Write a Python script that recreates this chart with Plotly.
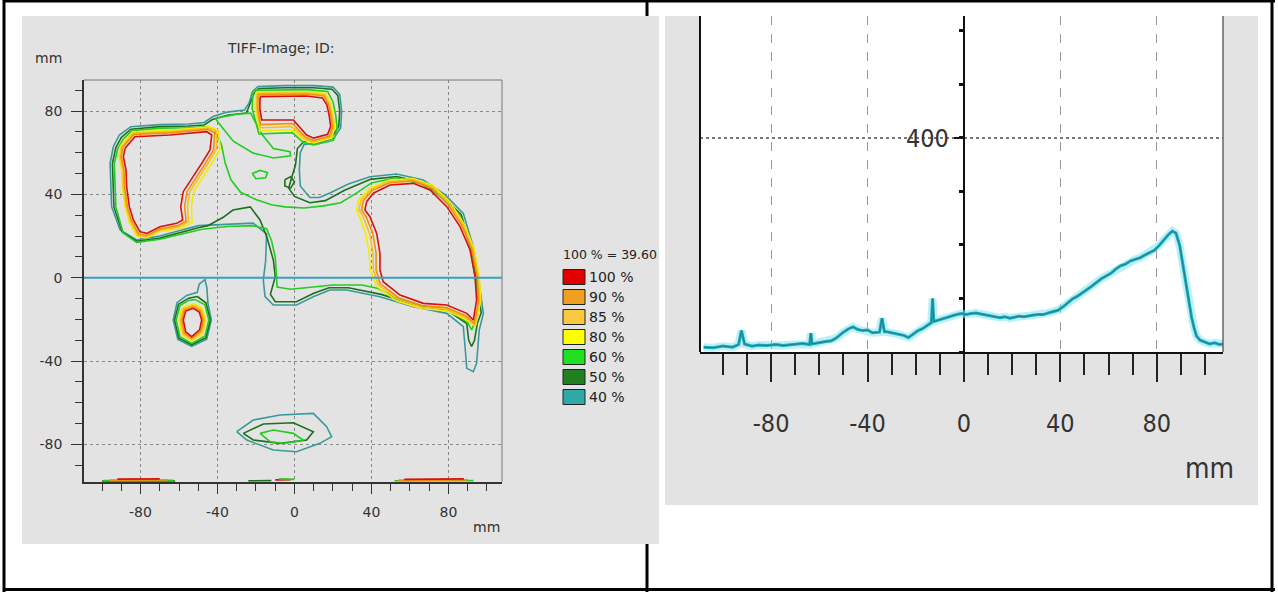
import plotly.graph_objects as go

W, H = 1278, 592

# ---------------- data: isodose contours (mm) ----------------
LEVELS = ["100 %", "90 %", "85 %", "80 %", "60 %", "50 %", "40 %"]
LEVEL_COLORS = ["#e00000", "#f0a020", "#f8c840", "#ffff00", "#20e020", "#208020", "#30a8a8"]
LINE_COLORS = {"100": "#d81010", "90": "#f09010", "85": "#f5c020", "80": "#f4ec00",
               "60": "#22cc22", "50": "#1d701d", "40": "#3a9a9a"}
NORM_TEXT = "100 % = 39.60"
TICK_VALS = [-80, -40, 0, 40, 80]
TICK_TEXT = ["-80", "-40", "0", "40", "80"]

# upper-left lobe
red100_A = [(-88.0, 62.1), (-82.9, 67.7), (-64.7, 68.5), (-45.6, 70.1), (-43.0, 68.5), (-43.9, 61.3),
            (-48.2, 54.9), (-52.6, 48.5), (-57.8, 41.3), (-59.1, 34.1), (-58.1, 27.7), (-61.2, 26.1),
            (-69.9, 24.5), (-76.8, 21.3), (-80.3, 22.1), (-83.7, 27.7), (-85.8, 34.1), (-87.2, 43.7),
            (-87.5, 51.7), (-88.9, 58.1)]
orange90_A = [(-89.2, 62.5), (-83.5, 68.8), (-64.7, 69.5), (-45.0, 71.2), (-41.5, 69.5), (-42.0, 61.5),
              (-46.2, 55.0), (-50.6, 48.5), (-55.8, 41.3), (-57.1, 34.1), (-56.3, 27.2), (-60.5, 25.0),
              (-69.9, 23.5), (-76.8, 20.3), (-80.9, 21.0), (-84.6, 27.3), (-86.8, 34.0), (-88.3, 43.7),
              (-88.6, 51.7), (-90.0, 58.2)]
gold85_A = [(-89.8, 62.9), (-83.8, 69.4), (-64.7, 70.1), (-44.6, 71.8), (-40.5, 70.2), (-40.6, 61.8),
            (-44.7, 55.2), (-49.1, 48.6), (-54.3, 41.4), (-55.6, 34.2), (-55.0, 27.0), (-59.8, 24.3),
            (-69.9, 22.9), (-76.8, 19.7), (-81.3, 20.4), (-85.2, 27.0), (-87.4, 34.0), (-88.9, 43.7),
            (-89.2, 51.7), (-90.6, 58.3)]
yellow80_A = [(-90.4, 63.3), (-84.1, 70.0), (-64.7, 70.7), (-44.2, 72.4), (-39.5, 70.8), (-38.6, 62.0),
              (-42.7, 55.4), (-47.1, 48.8), (-52.3, 41.5), (-53.6, 34.3), (-53.2, 26.6), (-59.0, 23.6),
              (-69.9, 22.3), (-76.8, 19.1), (-81.7, 19.8), (-85.8, 26.7), (-88.0, 34.0), (-89.5, 43.7),
              (-89.8, 51.7), (-91.2, 58.4)]

# top box
red100_B = [(-17.9, 86.9), (6.3, 87.2), (14.5, 86.3), (16.8, 83.0), (18.0, 78.0), (18.8, 72.5), (17.2, 68.8),
            (10.0, 67.0), (6.3, 68.5), (1.1, 74.1), (-0.6, 75.7), (-17.0, 75.7), (-18.0, 81.3)]
orange90_B = [(-18.9, 87.9), (6.3, 88.2), (15.2, 87.2), (17.6, 83.3), (18.9, 78.0), (19.8, 72.3), (18.0, 68.0),
              (10.0, 65.9), (5.8, 67.4), (0.5, 72.6), (-1.0, 74.0), (-17.6, 73.5), (-19.0, 81.3)]
gold85_B = [(-19.5, 88.5), (6.3, 88.8), (15.7, 87.8), (18.2, 83.5), (19.5, 78.0), (20.4, 72.2), (18.6, 67.5),
            (10.0, 65.3), (5.5, 66.7), (0.0, 71.5), (-2.0, 72.5), (-17.8, 72.0), (-19.7, 81.3)]
yellow80_B = [(-20.1, 89.1), (6.3, 89.4), (16.2, 88.4), (18.8, 83.8), (20.1, 78.0), (21.0, 72.0), (19.2, 67.0),
              (10.0, 64.7), (5.0, 66.0), (-0.5, 70.5), (-3.0, 71.0), (-18.0, 70.5), (-20.4, 81.3)]
green60_B = [(-21.5, 90.0), (6.3, 90.3), (17.2, 89.4), (20.0, 84.5), (21.4, 78.0), (22.2, 71.5), (20.2, 66.0),
             (10.0, 63.7), (4.5, 65.0), (-1.0, 69.5), (-4.0, 69.5), (-18.5, 69.0), (-22.0, 81.3)]

# right lobe
red100_C = [(40.9, 40.5), (49.6, 44.5), (61.7, 45.3), (70.4, 42.1), (79.1, 34.1), (86.0, 24.5), (91.2, 13.3),
            (93.8, 0.5), (94.6, -10.7), (92.9, -20.3), (89.5, -17.1), (79.1, -13.1), (66.9, -12.3),
            (54.8, -8.3), (46.1, -1.9), (44.4, 3.7), (44.4, 11.7), (42.7, 21.3), (39.2, 29.3),
            (36.6, 32.5), (37.5, 36.5)]
orange90_C = [(40.3, 41.8), (49.4, 45.6), (61.7, 46.4), (71.0, 43.1), (80.0, 34.8), (87.0, 25.0), (92.2, 13.5),
              (94.8, 0.5), (95.6, -10.8), (93.4, -21.8), (89.0, -18.4), (79.0, -14.3), (66.5, -13.5),
              (54.0, -9.6), (44.5, -2.8), (42.4, 3.7), (42.4, 11.7), (40.7, 21.3), (37.2, 29.3),
              (34.8, 32.5), (35.8, 37.0)]
gold85_C = [(39.8, 42.5), (49.3, 46.2), (61.7, 47.0), (71.5, 43.7), (80.6, 35.3), (87.6, 25.3), (92.8, 13.6),
            (95.4, 0.5), (96.2, -10.9), (93.7, -22.5), (88.7, -19.1), (78.9, -15.0), (66.3, -14.2),
            (53.6, -10.4), (43.5, -3.4), (41.0, 3.7), (40.8, 11.7), (39.0, 21.3), (35.6, 29.3),
            (33.5, 32.5), (34.5, 37.3)]
yellow80_C = [(39.3, 43.2), (49.2, 46.8), (61.7, 47.6), (72.0, 44.3), (81.2, 35.8), (88.2, 25.6), (93.4, 13.7),
              (96.0, 0.5), (96.8, -11.0), (94.0, -23.2), (88.4, -19.8), (78.8, -15.7), (66.1, -14.9),
              (53.2, -11.2), (42.5, -4.0), (39.4, 3.7), (38.8, 11.7), (37.0, 21.3), (33.8, 29.3),
              (32.2, 32.5), (33.4, 37.6)]

# small island
red100_D = [(-52.6, -14.7), (-49.5, -16.5), (-48.2, -20.3), (-49.3, -25.0), (-53.4, -28.3), (-56.5, -26.0),
            (-57.8, -20.3), (-56.5, -16.0)]
orange90_D = [(-52.6, -13.9), (-49.0, -15.9), (-47.4, -20.3), (-48.7, -25.6), (-53.4, -29.1), (-57.2, -26.5),
              (-58.6, -20.3), (-57.2, -15.4)]
gold85_D = [(-52.4, -13.2), (-48.5, -15.2), (-46.7, -20.3), (-48.2, -26.2), (-53.4, -29.7), (-57.8, -26.9),
            (-59.3, -20.3), (-57.8, -14.9)]
yellow80_D = [(-52.2, -12.5), (-48.0, -14.5), (-46.0, -20.3), (-47.7, -26.8), (-53.4, -30.3), (-58.4, -27.3),
              (-60.0, -20.3), (-58.4, -14.4)]
green60_D = [(-51.5, -10.5), (-46.5, -13.0), (-44.5, -20.3), (-46.5, -28.0), (-53.4, -31.5), (-59.5, -28.3),
             (-61.5, -20.3), (-59.5, -13.3), (-55.0, -10.8)]
dkgreen50_D = [(-50.5, -9.0), (-46.0, -12.0), (-43.8, -20.3), (-46.0, -28.8), (-53.4, -32.2), (-60.0, -29.0),
               (-62.3, -20.3), (-60.2, -12.7), (-55.0, -9.8)]
teal40_D = [(-48.0, -2.0), (-46.5, -0.8), (-45.5, -5.0), (-45.0, -12.0), (-43.2, -20.3), (-45.6, -29.5),
            (-53.4, -33.0), (-60.6, -29.6), (-63.0, -20.3), (-61.0, -12.0), (-56.0, -8.5), (-50.5, -7.0),
            (-49.5, -3.0)]

# bottom cluster
teal40_E = [(-30.0, -73.9), (-21.4, -68.3), (-7.5, -65.9), (9.8, -65.1), (16.7, -71.5), (19.3, -76.3),
            (13.2, -79.5), (1.1, -83.5), (-11.0, -82.7), (-24.8, -77.9)]
dkgreen50_E = [(-26.6, -74.7), (-16.2, -70.2), (-0.6, -69.6), (9.8, -73.9), (6.3, -77.9), (-7.5, -79.5),
               (-21.4, -77.9)]
green60_E = [(-17.9, -74.7), (-11.0, -73.1), (-0.6, -74.7), (4.6, -78.0), (-5.8, -79.5), (-12.7, -78.7)]

# merged low-dose regions
teal40_M = [(-94.1, 62.9), (-91.0, 68.5), (-85.0, 72.5), (-70.0, 73.5), (-55.0, 73.8), (-47.0, 74.5),
            (-42.0, 77.5), (-35.0, 79.5), (-26.0, 80.5), (-23.5, 84.0), (-22.0, 89.0), (-19.0, 91.8),
            (-5.0, 92.2), (10.0, 92.2), (20.0, 91.5), (23.5, 88.0), (24.5, 80.0), (24.0, 72.0), (20.5, 67.0),
            (12.0, 64.5), (5.0, 64.0), (3.0, 60.0), (2.5, 52.0), (3.0, 44.0), (8.0, 38.5), (13.0, 38.5),
            (18.4, 40.7), (28.0, 45.0), (39.2, 48.5), (53.1, 49.8), (66.9, 46.9), (78.0, 40.0),
            (87.7, 30.9), (92.9, 14.9), (95.5, 0.5), (98.1, -17.1), (96.0, -25.0), (95.2, -35.0),
            (94.6, -41.1), (92.9, -45.1), (89.5, -43.5), (88.6, -33.1), (87.7, -23.5), (79.1, -17.1),
            (61.7, -13.9), (44.4, -9.1), (27.1, -5.9), (18.4, -5.9), (10.0, -9.0), (1.1, -13.1),
            (-11.0, -13.1), (-15.3, -9.1), (-16.2, -1.1), (-15.0, 8.0), (-14.5, 21.0), (-21.5, 26.2),
            (-35.0, 25.5), (-50.0, 25.0), (-60.0, 22.5), (-70.0, 20.0), (-82.0, 18.1), (-90.6, 22.9),
            (-95.0, 34.1), (-95.8, 54.9)]
dkgreen50_M = [(-92.8, 62.5), (-90.0, 67.3), (-85.0, 71.3), (-70.0, 72.5), (-55.0, 72.8), (-47.0, 73.3),
               (-42.5, 76.0), (-35.0, 78.0), (-25.0, 79.0), (-22.8, 84.0), (-21.0, 88.5), (-18.5, 90.8),
               (-5.0, 91.2), (10.0, 91.2), (19.5, 90.5), (22.5, 87.5), (23.5, 80.0), (23.0, 72.5),
               (19.5, 68.0), (11.0, 65.5), (5.0, 65.5), (1.5, 62.0), (0.5, 54.0), (-1.5, 48.0), (-3.0, 43.0),
               (0.0, 39.0), (8.0, 36.0), (16.0, 37.0), (26.0, 42.0), (39.5, 47.2), (53.0, 48.6),
               (66.3, 45.7), (77.0, 39.0), (86.6, 30.2), (91.8, 14.7), (94.4, 0.5), (97.0, -16.8),
               (95.0, -22.0), (93.5, -30.0), (92.0, -33.0), (90.5, -30.0), (89.5, -22.0), (80.0, -16.0),
               (62.0, -12.8), (45.0, -8.0), (28.0, -4.8), (18.0, -4.8), (10.0, -7.5), (1.0, -11.5),
               (-10.0, -11.5), (-12.5, -8.0), (-10.0, 0.5), (-11.0, 8.5), (-14.4, 19.7), (-17.9, 27.7),
               (-23.0, 34.0), (-32.0, 32.5), (-37.0, 29.0), (-45.0, 25.0), (-50.0, 24.0), (-60.0, 21.5),
               (-70.0, 19.0), (-82.0, 17.5), (-89.5, 22.0), (-93.8, 34.0), (-94.6, 54.8)]
green60_M = [(-91.8, 62.0), (-89.0, 66.5), (-84.5, 70.6), (-70.0, 71.8), (-55.0, 72.0), (-47.0, 72.4),
             (-42.0, 71.5), (-38.0, 64.0), (-36.0, 55.0), (-33.0, 47.0), (-28.0, 41.0), (-20.0, 37.5),
             (-12.0, 35.0), (-5.0, 34.0), (5.0, 33.5), (15.0, 34.5), (24.0, 36.0), (32.0, 40.5),
             (40.0, 45.5), (52.5, 48.0), (66.0, 45.0), (76.5, 38.5), (86.0, 29.8), (91.2, 14.5),
             (93.8, 0.5), (96.0, -14.0), (94.5, -20.0), (92.0, -25.0), (90.0, -21.5), (80.0, -15.0),
             (66.0, -13.5), (53.0, -10.0), (43.0, -5.0), (35.0, -3.5), (20.0, -3.5), (8.0, -4.5),
             (-2.0, -5.5), (-9.0, -4.5), (-9.5, 2.0), (-10.0, 10.0), (-12.0, 18.0), (-14.5, 23.5),
             (-22.0, 25.0), (-35.0, 24.6), (-48.0, 23.3), (-58.0, 21.0), (-70.0, 18.5), (-82.0, 17.0),
             (-89.0, 21.5), (-92.8, 34.0), (-93.6, 54.7)]
green60_link = [(-41.0, 76.5), (-30.0, 78.5), (-22.8, 79.0), (-17.0, 69.0), (-11.0, 62.0), (-2.3, 60.5),
                (-2.0, 58.5), (-11.0, 57.5), (-21.4, 59.8), (-31.8, 65.5), (-39.6, 74.5)]
green60_isl = [(-22.0, 50.0), (-18.0, 51.5), (-14.0, 50.5), (-15.0, 48.0), (-20.0, 47.5)]
dkgreen50_isl = [(-5.0, 47.0), (-2.0, 48.5), (0.0, 46.0), (-2.0, 43.0), (-5.0, 44.0)]

# partial contours along the lower image edge (open lines)
edge_lines = [
    ("50", [(-100.0, -97.6), (-62.0, -97.6)]), ("60", [(-99.0, -97.4), (-63.0, -97.3)]),
    ("90", [(-96.0, -97.1), (-66.0, -97.0)]), ("100", [(-92.0, -96.7), (-70.0, -96.5)]),
    ("50", [(-24.0, -97.5), (-12.0, -97.4)]), ("100", [(-10.0, -97.0), (-2.0, -96.9)]),
    ("60", [(-8.0, -96.6), (0.0, -96.8)]),
    ("60", [(52.0, -97.5), (93.0, -97.4)]), ("90", [(54.0, -97.2), (90.0, -97.0)]),
    ("100", [(57.0, -96.8), (88.0, -96.5)]),
]

PROFILE_Y = 0.0  # position of the profile line in the dose map (mm)

# ---------------- data: dose profile ----------------
PROFILE_X = [-108, -104, -100, -96, -93.5, -92.3, -91, -88, -85, -82, -78, -75, -71, -67, -64, -63.5,
             -63, -61, -58, -55, -53, -50, -48, -46, -44, -42, -40, -38, -35, -34, -33, -32, -29, -27,
             -25, -23, -21, -19, -17, -15, -13.5, -13, -12.5, -11, -9, -7, -5, -3, -1, 1, 3, 5, 7, 9,
             11, 13, 15, 17, 19, 21, 23, 25, 27, 29, 31, 33, 35, 37, 39, 41, 43, 45, 47, 49, 51, 53,
             55, 57, 59, 61, 63, 65, 67, 69, 71, 73, 75, 77, 79, 81, 83, 85, 86.5, 88, 89.5, 90.5,
             91.5, 92.5, 93.5, 94.5, 95.5, 96.5, 98, 100, 102, 104, 106, 107.5]
PROFILE_DOSE = [9, 8, 11, 9, 14, 40, 15, 11, 13, 12, 14, 12, 14, 16, 14, 35, 15, 17, 19, 21, 26, 37, 43,
                47, 42, 40, 41, 36, 37, 63, 38, 38, 35, 33, 31, 27, 33, 40, 44, 50, 55, 100, 57, 59, 62,
                65, 68, 70, 72, 70, 72, 73, 71, 69, 67, 65, 64, 66, 63, 65, 67, 66, 68, 69, 70, 70, 73,
                76, 78, 84, 91, 99, 104, 110, 117, 123, 130, 137, 142, 147, 155, 161, 164, 170, 173, 176,
                181, 186, 190, 199, 210, 220, 226, 222, 200, 172, 145, 115, 88, 64, 45, 30, 22, 18, 15,
                17, 14, 15]

# ---------------- figure ----------------
fig = go.Figure()


def closed(poly):
    xs = [p[0] for p in poly] + [poly[0][0]]
    ys = [p[1] for p in poly] + [poly[0][1]]
    return xs, ys


contour_sets = [
    ("40", [teal40_M, teal40_D, teal40_E]),
    ("50", [dkgreen50_M, dkgreen50_D, dkgreen50_E, dkgreen50_isl]),
    ("60", [green60_M, green60_B, green60_D, green60_E, green60_link, green60_isl]),
    ("80", [yellow80_A, yellow80_B, yellow80_C, yellow80_D]),
    ("85", [gold85_A, gold85_B, gold85_C, gold85_D]),
    ("90", [orange90_A, orange90_B, orange90_C, orange90_D]),
    ("100", [red100_A, red100_B, red100_C, red100_D]),
]
for lvl, polys in contour_sets:
    for poly in polys:
        xs, ys = closed(poly)
        fig.add_trace(go.Scatter(x=xs, y=ys, mode="lines", xaxis="x", yaxis="y",
                                 line=dict(color=LINE_COLORS[lvl], width=1.6),
                                 hoverinfo="skip", showlegend=False))
for lvl, pts in edge_lines:
    fig.add_trace(go.Scatter(x=[p[0] for p in pts], y=[p[1] for p in pts], mode="lines",
                             xaxis="x", yaxis="y", line=dict(color=LINE_COLORS[lvl], width=1.8),
                             hoverinfo="skip", showlegend=False))

# profile on the right
fig.add_trace(go.Scatter(x=PROFILE_X, y=PROFILE_DOSE, mode="lines", xaxis="x2", yaxis="y2",
                         line=dict(color="rgba(130,230,240,0.55)", width=8), hoverinfo="skip",
                         showlegend=False))
fig.add_trace(go.Scatter(x=PROFILE_X, y=PROFILE_DOSE, mode="lines", xaxis="x2", yaxis="y2",
                         line=dict(color="#22aabb", width=3), hoverinfo="skip", showlegend=False))
fig.add_trace(go.Scatter(x=PROFILE_X, y=PROFILE_DOSE, mode="lines", xaxis="x2", yaxis="y2",
                         line=dict(color="#1b8090", width=1), hoverinfo="skip", showlegend=False))


def X(px):
    return px / W


def Y(py):
    return 1 - py / H


LEFT_FONT = dict(family="DejaVu Sans", size=14, color="#333")
NARROW = "Liberation Sans Narrow, DejaVu Sans Condensed, Arial Narrow, sans-serif"
RIGHT_FONT = dict(family=NARROW, size=25, color="#333")

shapes = []
# table borders
for x0, y0, x1, y1 in [(3, 1, 1275, 1), (4, 0, 4, 592), (647, 0, 647, 592), (1272, 0, 1272, 592),
                       (3, 589.5, 1275, 589.5)]:
    shapes.append(dict(type="line", xref="paper", yref="paper", x0=X(x0), y0=Y(y0), x1=X(x1), y1=Y(y1),
                       line=dict(color="black", width=3), layer="below"))
# grey panels
shapes.append(dict(type="rect", xref="paper", yref="paper", x0=X(22), x1=X(659), y0=Y(544), y1=Y(16),
                   fillcolor="#e3e3e3", line=dict(width=0), layer="below"))
shapes.append(dict(type="rect", xref="paper", yref="paper", x0=X(665), x1=X(1258), y0=Y(505), y1=Y(16),
                   fillcolor="#e3e3e3", line=dict(width=0), layer="below"))
shapes.append(dict(type="rect", xref="paper", yref="paper", x0=X(700), x1=X(1223), y0=Y(352), y1=Y(16),
                   fillcolor="white", line=dict(width=0), layer="below"))
# frame lines
shapes.append(dict(type="line", xref="paper", yref="paper", x0=X(84), x1=X(502), y0=Y(80), y1=Y(80),
                   line=dict(color="#777", width=1)))
shapes.append(dict(type="line", xref="paper", yref="paper", x0=X(502), x1=X(502), y0=Y(80), y1=Y(481.7),
                   line=dict(color="#777", width=1)))
shapes.append(dict(type="line", xref="paper", yref="paper", x0=X(700), x1=X(700), y0=Y(16), y1=Y(352),
                   line=dict(color="#111", width=2)))
shapes.append(dict(type="line", xref="paper", yref="paper", x0=X(1223), x1=X(1223), y0=Y(16), y1=Y(352),
                   line=dict(color="#666", width=1.5)))
# profile position on the dose map
shapes.append(dict(type="line", xref="x domain", yref="y", x0=0, x1=1, y0=PROFILE_Y, y1=PROFILE_Y,
                   line=dict(color="#3a9fc0", width=2)))


def ann(text, px, py, font, xanchor="center"):
    return dict(text=text, x=X(px), y=Y(py), xref="paper", yref="paper", showarrow=False,
                xanchor=xanchor, yanchor="middle", font=font)


annotations = [
    ann("TIFF-Image; ID:", 280, 48, dict(family="DejaVu Sans", size=14, color="#333")),
    ann("mm", 48, 58, LEFT_FONT),
    ann("mm", 486, 527, LEFT_FONT),
    ann(NORM_TEXT, 561, 255, dict(family="DejaVu Sans", size=12.5, color="#222"), "left"),
    ann("mm", 1209, 468, dict(family=NARROW, size=28, color="#333")),
]
for i, (lab, col) in enumerate(zip(LEVELS, LEVEL_COLORS)):
    cy = 277 + 20 * i
    shapes.append(dict(type="rect", xref="paper", yref="paper", x0=X(563), x1=X(585), y0=Y(cy + 7.5),
                       y1=Y(cy - 7.5), fillcolor=col, line=dict(color="#222", width=1)))
    annotations.append(ann(lab, 587, cy, dict(family="DejaVu Sans", size=14, color="#222"), "left"))

tick_common = dict(ticks="outside", tickcolor="#333", tickwidth=1.2, showgrid=True, gridcolor="#888",
                   griddash="dot", gridwidth=1, zeroline=False, showline=True, linecolor="#333",
                   linewidth=1.5, tickfont=LEFT_FONT, tickmode="array", tickvals=TICK_VALS,
                   ticktext=TICK_TEXT, ticklen=11, ticklabelstandoff=6)

fig.update_layout(
    width=W, height=H, margin=dict(l=0, r=0, t=0, b=0),
    paper_bgcolor="white", plot_bgcolor="rgba(0,0,0,0)",
    shapes=shapes, annotations=annotations, showlegend=False,
    xaxis=dict(domain=[X(84), X(502)], range=[-109.35, 107.8], anchor="y",
               minor=dict(tickmode="linear", tick0=0, dtick=10, ticklen=8, ticks="outside", tickcolor="#333",
                          tickwidth=1.2, showgrid=False), **tick_common),
    yaxis=dict(domain=[Y(481.7), Y(80)], range=[-97.9, 94.9], anchor="x",
               minor=dict(tickmode="linear", tick0=0, dtick=10, ticklen=7, ticks="outside", tickcolor="#333",
                          tickwidth=1.2, showgrid=False), **tick_common),
    xaxis2=dict(domain=[X(700), X(1223)], range=[-109.5, 107.5], anchor="y2",
                showline=True, linecolor="#111", linewidth=2,
                ticks="outside", ticklen=28, tickwidth=1.5, tickcolor="#222",
                tickmode="array", tickvals=TICK_VALS, ticktext=TICK_TEXT,
                minor=dict(tickmode="linear", tick0=0, dtick=10, ticklen=21, ticks="outside",
                           tickcolor="#222", tickwidth=1.5, showgrid=False),
                showgrid=True, gridcolor="#999", griddash="dash", gridwidth=1,
                zeroline=True, zerolinecolor="#111", zerolinewidth=2,
                tickfont=RIGHT_FONT, ticklabelstandoff=20),
    yaxis2=dict(domain=[Y(352), Y(16)], range=[0, 628], anchor="free", position=X(963.9),
                showline=False, ticks="outside", tickvals=[400], ticktext=["400"], ticklen=10,
                tickwidth=2, tickcolor="#111",
                minor=dict(tickmode="linear", tick0=0, dtick=100, ticklen=5, ticks="outside",
                           tickwidth=2.5, tickcolor="#111", showgrid=False),
                showgrid=True, gridcolor="#777", griddash="dot", gridwidth=2, zeroline=False,
                tickfont=RIGHT_FONT),
)

fig.write_html("out.html")
